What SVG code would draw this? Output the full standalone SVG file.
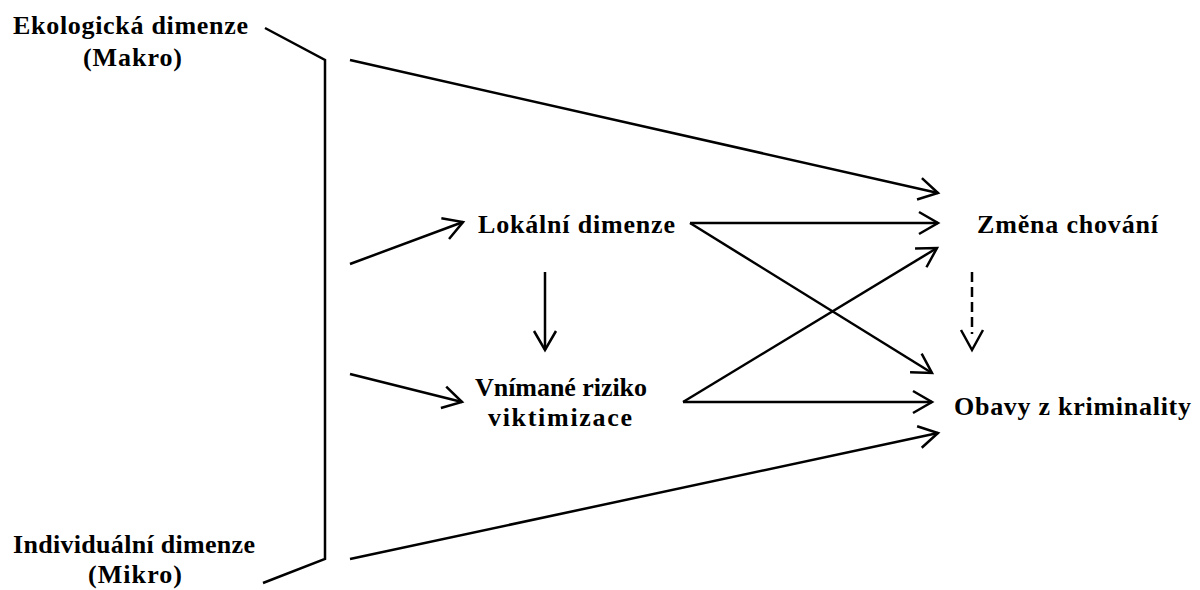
<svg xmlns="http://www.w3.org/2000/svg" width="1200" height="590" viewBox="0 0 1200 590">
  <style>
    .lbl { font-family: "Liberation Serif", "Times New Roman", serif; font-weight: bold; font-size: 26px; fill: #000; }
    .ln { fill: none; stroke: #000; stroke-width: 2.5; }
    .arr { marker-end: url(#open); }
    .dash { stroke-dasharray: 10 5; }
  </style>
  <defs>
    <marker id="open" markerUnits="userSpaceOnUse" markerWidth="30" markerHeight="30" refX="0" refY="0" viewBox="-24 -15 30 30" orient="auto" overflow="visible">
      <path d="M -19 -11 L 0 0 L -19 11" fill="none" stroke="#000" stroke-width="2.5"/>
    </marker>
  </defs>
  <rect width="1200" height="590" fill="#fff"/>

  <g id="ekologicka">
    <text class="lbl" x="13" y="34" textLength="235" lengthAdjust="spacing">Ekologická dimenze</text>
    <text class="lbl" x="83" y="66" textLength="99" lengthAdjust="spacing">(Makro)</text>
  </g>
  <g id="individualni">
    <text class="lbl" x="13" y="553" textLength="242" lengthAdjust="spacing">Individuální dimenze</text>
    <text class="lbl" x="88" y="583" textLength="94" lengthAdjust="spacing">(Mikro)</text>
  </g>
  <g id="lokalni">
    <text class="lbl" x="478" y="233" textLength="197" lengthAdjust="spacing">Lokální dimenze</text>
  </g>
  <g id="riziko">
    <text class="lbl" x="475" y="396" textLength="172" lengthAdjust="spacing">Vnímané riziko</text>
    <text class="lbl" x="488" y="426" textLength="144" lengthAdjust="spacing">viktimizace</text>
  </g>
  <g id="zmena">
    <text class="lbl" x="977" y="233" textLength="181" lengthAdjust="spacing">Změna chování</text>
  </g>
  <g id="obavy">
    <text class="lbl" x="954" y="415" textLength="237" lengthAdjust="spacing">Obavy z kriminality</text>
  </g>

  <g id="connectors">
    <!-- bracket joining macro and micro dimensions -->
    <polyline class="ln" points="265,28 325,60 325,559 263,583"/>
    <line class="ln arr" x1="350" y1="60" x2="938" y2="193"/>
    <line class="ln arr" x1="350" y1="264" x2="463" y2="222"/>
    <line class="ln arr" x1="350" y1="374" x2="462" y2="402"/>
    <line class="ln arr" x1="545" y1="272" x2="545" y2="350"/>
    <line class="ln arr" x1="690" y1="223" x2="938" y2="223"/>
    <line class="ln arr" x1="690" y1="223" x2="932" y2="373"/>
    <line class="ln arr" x1="683" y1="402" x2="937" y2="248"/>
    <line class="ln arr" x1="683" y1="402" x2="932" y2="402"/>
    <line class="ln arr" x1="350" y1="559" x2="938" y2="433"/>
    <line class="ln dash" x1="972" y1="272" x2="972" y2="334"/>
    <path class="ln" d="M 961 330 L 972 350 L 983 330"/>
  </g>
</svg>
